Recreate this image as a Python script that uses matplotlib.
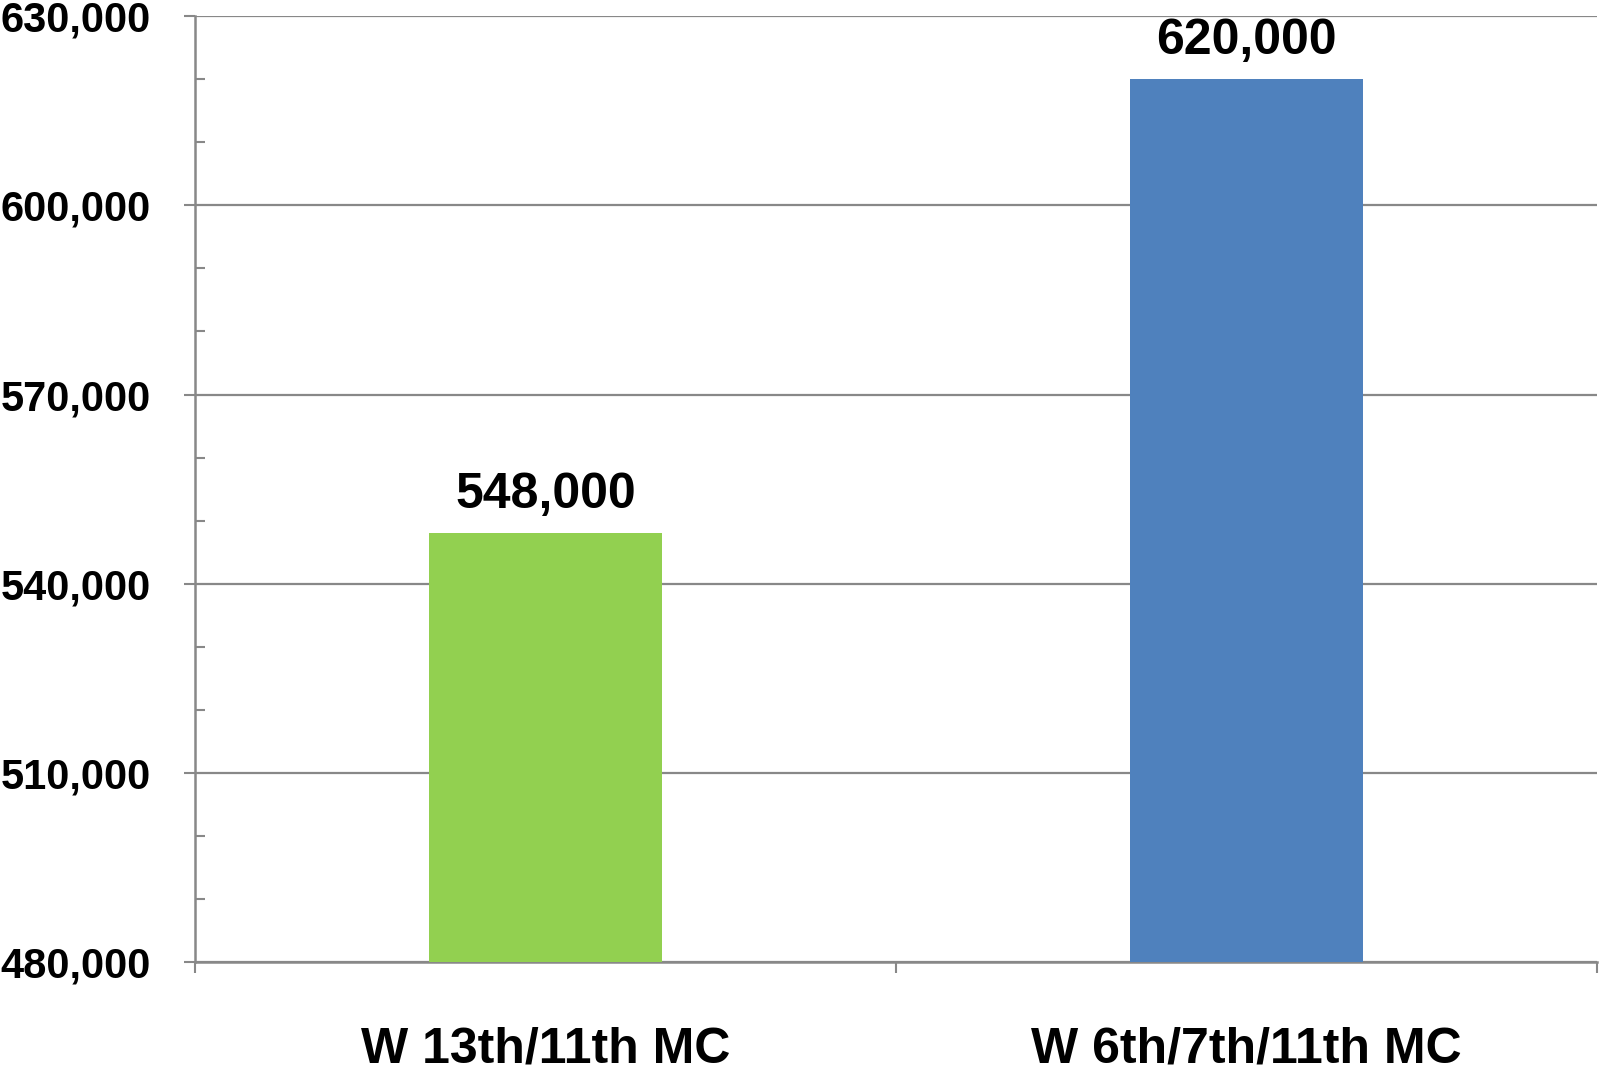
import matplotlib
matplotlib.use("Agg")
from matplotlib import pyplot as plt
from matplotlib.ticker import MultipleLocator, FuncFormatter, FixedLocator

# Data
categories = ["W 13th/11th MC", "W 6th/7th/11th MC"]
values = [548000, 620000]
bar_colors = ["#92D050", "#4F81BD"]

plt.rcParams['font.family'] = ['Liberation Sans', 'DejaVu Sans']
plt.rcParams['font.weight'] = 'bold'

grey = "#888888"

fig = plt.figure(figsize=(16, 10.75), dpi=100)
ax = fig.add_axes([0.122, 0.105, 0.876, 0.88])

x = list(range(len(categories)))
ax.bar(x, values, width=0.333, color=bar_colors, zorder=3)

# bar value labels
for xi, v in zip(x, values):
    ax.annotate(f"{v:,}", (xi, v), xytext=(0, 11), textcoords="offset points",
                ha="center", va="bottom", fontsize=36, fontweight="bold")

# y axis
ax.set_ylim(480000, 630000)
ax.yaxis.set_major_locator(MultipleLocator(30000))
ax.yaxis.set_minor_locator(MultipleLocator(10000))
ax.yaxis.set_major_formatter(FuncFormatter(lambda v, p: f"{int(v):,}"))
ax.tick_params(axis="y", which="major", direction="out", length=8, width=1.5,
               color=grey, pad=24, labelsize=30)
ax.tick_params(axis="y", which="minor", direction="in", length=7, width=1.5,
               color=grey)
ax.grid(axis="y", which="major", color=grey, linewidth=1.6, zorder=0)

# x axis
ax.set_xlim(-0.5, 1.5)
ax.set_xticks(x)
ax.set_xticklabels(categories)
ax.xaxis.set_minor_locator(FixedLocator([-0.5, 0.5, 1.5]))
ax.tick_params(axis="x", which="major", length=0, pad=46, labelsize=36)
ax.tick_params(axis="x", which="minor", direction="out", length=8, width=1.5,
               color=grey)

for s in ["top", "right"]:
    ax.spines[s].set_visible(False)
for s in ["left", "bottom"]:
    ax.spines[s].set_color(grey)
    ax.spines[s].set_linewidth(1.8)

fig.savefig("out.png", dpi=100)
